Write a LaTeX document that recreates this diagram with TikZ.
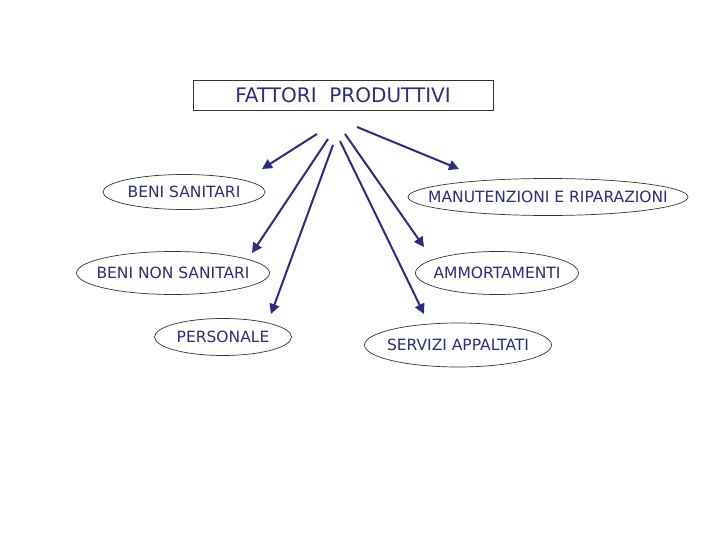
\documentclass[tikz,border=0pt]{standalone}
\usepackage{fontspec}
\setmainfont{DejaVu Sans}
\usetikzlibrary{arrows.meta, shapes.geometric}
\definecolor{navy}{RGB}{44,44,128}
\tikzset{voce/.style={ellipse, draw=black!80, line width=0.7pt, fill=white,
    text=navy, font=\fontsize{15.5}{16}\selectfont, inner sep=0pt,
    execute at begin node={\hbox to 0pt\bgroup\hss},
    execute at end node={\hss\egroup}},
  freccia/.style={draw=navy, line width=2pt, -{Triangle[length=10pt,width=10pt]}}}
\begin{document}
\begin{tikzpicture}[x=1pt,y=-1pt]
\useasboundingbox (0,0) rectangle (720,540);
\node[draw=black!80, line width=0.7pt, text=navy, font=\fontsize{20}{22}\selectfont,
  minimum width=300pt, minimum height=30pt] (fp) at (343,95) {FATTORI\ \ PRODUTTIVI};

\node[voce, minimum width=162pt, minimum height=35pt] (bs) at (184,192) {BENI SANITARI};
\node[voce, minimum width=193pt, minimum height=43pt] (bns) at (173,273) {BENI NON SANITARI};
\node[voce, minimum width=137pt, minimum height=37pt] (pers) at (223,337) {PERSONALE};
\node[voce, minimum width=280pt, minimum height=37pt] (man) at (548,197) {MANUTENZIONI E RIPARAZIONI};
\node[voce, minimum width=163pt, minimum height=43pt] (amm) at (497,273) {AMMORTAMENTI};
\node[voce, minimum width=187pt, minimum height=44pt] (serv) at (458,345) {SERVIZI APPALTATI};

% punti di partenza e di arrivo delle frecce
\coordinate (p1) at (317,134);
\coordinate (p2) at (328,139);
\coordinate (p3) at (333,145);
\coordinate (p4) at (340,141);
\coordinate (p5) at (345,134);
\coordinate (p6) at (357,127);
\coordinate (a1) at (262,169);
\coordinate (a2) at (252,253);
\coordinate (a3) at (271,314);
\coordinate (a4) at (424,314);
\coordinate (a5) at (424,247);
\coordinate (a6) at (459,169);

\path[]
(p1) edge[freccia] (a1)
(p2) edge[freccia] (a2)
(p3) edge[freccia] (a3)
(p4) edge[freccia] (a4)
(p5) edge[freccia] (a5)
(p6) edge[freccia] (a6)
;
\end{tikzpicture}
\end{document}
